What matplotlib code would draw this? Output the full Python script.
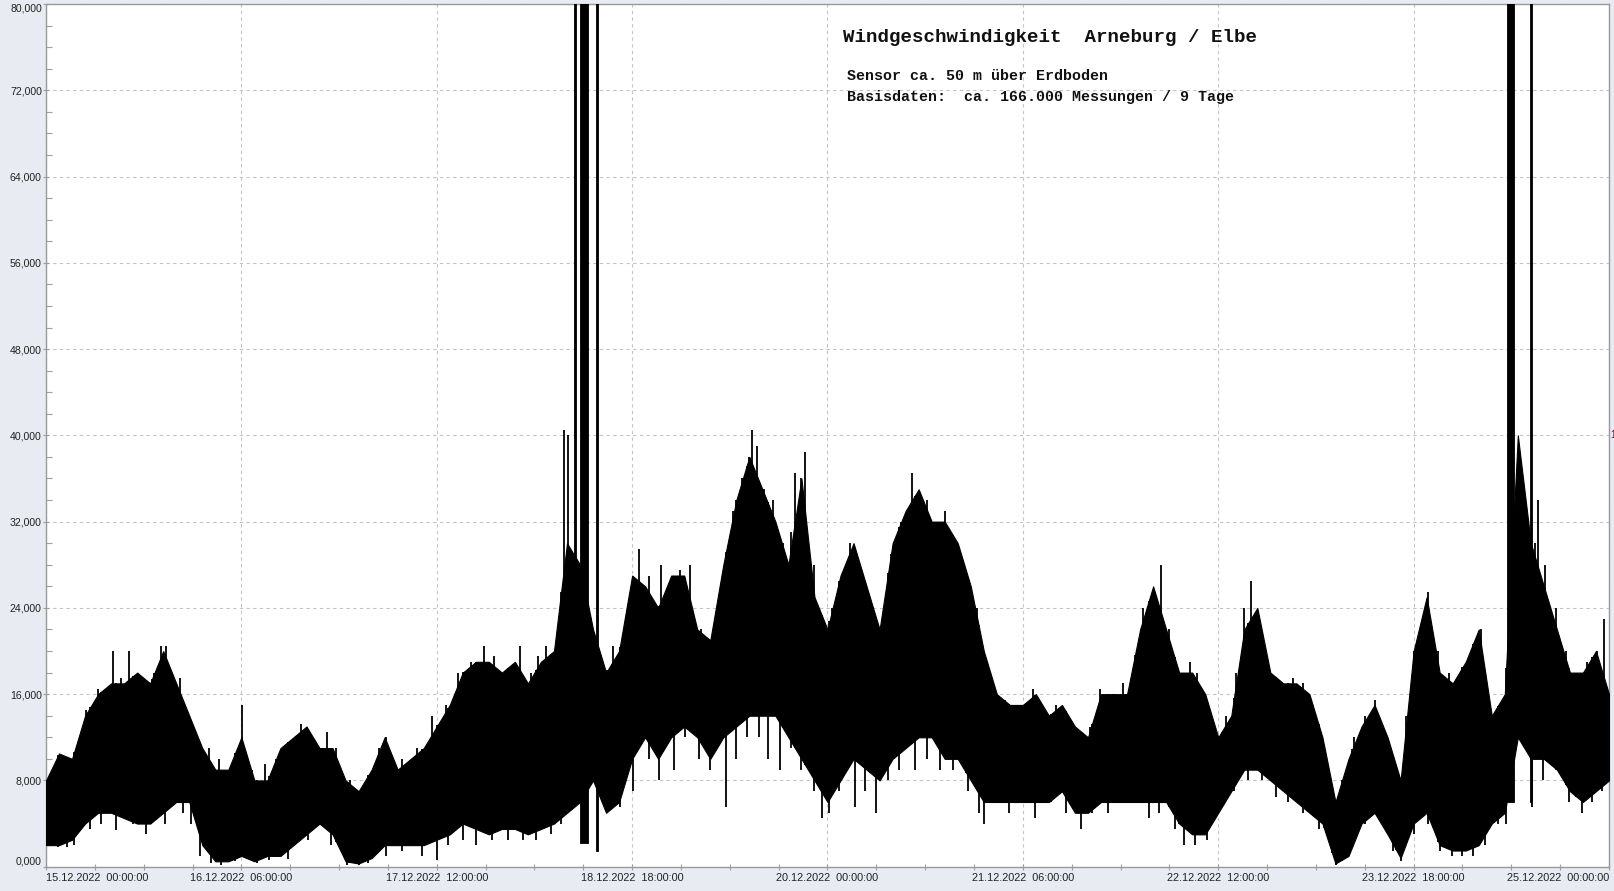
"""
Wind speed Arneburg / Elbe, 15.12.2022 - 25.12.2022.
Dense readings are drawn as a band (upper / lower envelope read off the
original chart), single high / low readings as spikes and the
out-of-range spikes.
"""

import numpy as np
import matplotlib
matplotlib.use("Agg")
import matplotlib.pyplot as plt
from matplotlib.ticker import MultipleLocator

# --- data (hours since 15.12.2022 00:00, values in thousands) ------------
hours = list(range(0, 241, 2))
upper_k = [8, 10.5, 10, 14, 16, 17, 17, 18, 17, 20, 17, 14,
           11, 9, 9, 12, 8, 8, 11, 12, 13, 11, 11, 8,
           7, 9, 12, 9, 10, 11, 13, 15, 18, 19, 19, 18,
           19, 17, 19, 20, 30, 28, 22, 18, 20, 27, 26, 24,
           27, 27, 22, 21, 28, 34, 38, 35, 32, 28, 36, 25,
           22, 27, 30, 26, 22, 30, 33, 35, 32, 32, 30, 26,
           20, 16, 15, 15, 16, 14, 15, 13, 12, 16, 16, 16,
           22, 26, 22, 18, 18, 16, 12, 14, 22, 24, 18, 17,
           17, 16, 12, 6, 10, 13, 15, 12, 8, 20, 25, 18,
           17, 19, 22, 14, 16, 40, 30, 26, 22, 18, 18, 20, 16]
lower_k = [2, 2, 2.5, 4, 5, 5, 4.5, 4, 4, 5, 6, 6,
           2, 0.5, 0.5, 1, 0.5, 1, 1, 2, 3, 4, 3, 0.5,
           0.3, 0.8, 2, 2, 2, 2, 2.5, 3, 4, 3.5, 3, 3.5,
           3.5, 3, 3.5, 4, 5, 6, 8, 5, 6, 10, 12, 10,
           12, 13, 12, 10, 12, 13, 14, 14, 14, 12, 10, 8,
           6, 8, 10, 9, 8, 10, 11, 12, 12, 10, 10, 8,
           6, 6, 6, 6, 6, 6, 7, 5, 5, 6, 6, 6,
           6, 6, 6, 4, 3, 3, 5, 7, 9, 9, 8, 7,
           6, 5, 4, 0.3, 1, 4, 5, 3, 0.8, 4, 5, 2,
           1.5, 1.5, 2, 4, 5, 12, 10, 10, 9, 7, 6, 7, 8]

# single high readings
high_hours = [6.2, 8.0, 10.3, 11.5, 12.7, 14.0, 15.0, 16.6, 17.7, 18.5, 19.5,
              20.6, 21.7, 25.0, 26.6, 30.1, 31.6, 33.7, 35.3, 37.2, 39.2, 40.8,
              43.2, 44.6, 46.7, 48.7, 51.1, 52.2, 54.6, 57.0, 59.3, 61.4, 63.3,
              65.3, 67.2, 68.8, 70.4, 72.8, 74.4, 75.5, 76.7, 78.3, 79.6, 80.1,
              87.0, 89.4, 91.0, 92.6, 94.5, 95.7, 97.3, 98.9, 100.5, 102.0,
              103.6, 105.5, 106.8, 107.9, 108.4, 109.2, 110.3, 111.6, 113.1,
              114.4, 115.0, 116.6, 117.9, 120.7, 122.3, 123.4, 125.0, 126.6,
              128.2, 129.7, 131.3, 132.9, 134.2, 135.3, 136.9, 138.1, 139.7,
              141.3, 142.9, 144.5, 145.6, 147.2, 148.7, 150.3, 151.6, 153.5,
              155.1, 156.6, 158.7, 160.3, 161.9, 163.8, 165.3, 166.9, 168.5,
              170.1, 171.2, 172.5, 174.0, 175.6, 176.7, 178.0, 179.6, 181.2,
              182.8, 184.0, 185.1, 186.2, 187.8, 189.9, 191.5, 193.0, 194.6,
              196.2, 197.5, 199.4, 200.9, 202.5, 204.1, 205.7, 207.3, 208.9,
              210.0, 211.4, 212.2, 213.8, 215.4, 217.0, 218.5, 219.6, 220.3,
              221.5, 223.1, 224.7, 228.6, 229.1, 230.2, 231.8, 233.4, 235.0,
              236.6, 238.2, 239.2]
high_k = [14.5, 16.5, 20, 17.5, 20, 17, 15, 18, 20.5, 20.5, 17.8,
          17.5, 14, 11, 10, 15, 9, 9.5, 10, 11, 13.2, 12,
          12.5, 11, 8, 7.5, 11, 12, 10, 11, 14, 15, 18,
          19, 20.5, 19.5, 18, 20.5, 18, 19.5, 20.5, 20, 40.5, 40,
          20.5, 24, 29.5, 27, 28, 26, 27.5, 28, 22, 20,
          26, 33, 36, 38, 40.5, 39, 35, 34, 30,
          31, 36.5, 38.5, 28, 24, 27, 30, 27, 24,
          20, 29, 32, 36.5, 33, 34, 30, 33, 30,
          26, 24, 17, 14, 15.5, 14, 15, 16.5, 13.5,
          15, 14, 12, 13, 16.5, 16, 17, 18, 24,
          24, 28, 22, 18, 19, 18, 16, 11, 14,
          18, 24, 26.5, 23, 18, 16, 17.5, 17, 15,
          10, 6, 8, 12, 14, 15.5, 12, 9, 14,
          20, 22, 25.5, 20, 18, 17, 19, 21, 22,
          15, 12, 43, 30, 34, 28, 24, 20, 18,
          19, 20, 23]

# single low readings
low_hours = [1.9, 3.3, 4.3, 6.8, 8.4, 10.8, 13.4, 15.3, 16.3, 18.2, 21.0,
             22.3, 23.7, 25.3, 26.9, 29.0, 32.4, 34.3, 37.2, 40.3, 43.8,
             46.2, 48.0, 49.5, 52.2, 54.6, 57.8, 60.1, 61.7, 64.1, 66.1,
             68.5, 70.9, 73.3, 75.2, 77.5, 79.1, 86.2, 88.1, 90.2, 92.6,
             94.1, 96.5, 98.1, 100.2, 102.0, 104.4, 106.0, 107.6, 109.5,
             110.8, 112.7, 114.4, 116.0, 117.9, 119.1, 120.3, 121.8, 124.2,
             125.8, 127.4, 129.3, 131.0, 133.4, 135.3, 137.2, 139.2, 141.6,
             143.2, 144.0, 145.6, 147.9, 149.8, 151.9, 154.3, 156.6, 159.0,
             160.6, 163.0, 165.3, 167.2, 169.3, 170.9, 173.3, 174.8, 176.4,
             178.3, 180.5, 182.4, 184.6, 186.7, 188.8, 190.7, 193.0, 195.4,
             198.1, 199.0, 200.6, 202.5, 204.8, 206.8, 208.0, 210.0, 212.2,
             214.1, 215.9, 217.5, 219.1, 221.0, 222.9, 224.2, 228.2, 229.9,
             231.8, 233.8, 235.8, 237.4, 239.0]
low_k = [1.8, 1.8, 2, 3.5, 4, 3.4, 4, 3, 4.5, 4, 5,
         4, 1, 0.3, 0.2, 0.5, 0.3, 0.6, 0.7, 2.5, 2,
         0.2, 0.2, 0.3, 1, 1.5, 1, 0.6, 2, 2.5, 2,
         2.5, 2.5, 2.5, 2.5, 3, 4, 6, 5.5, 7, 10,
         8, 9, 12, 10, 9, 5.5, 10, 12, 12,
         10, 9, 11, 9, 7, 4.5, 5, 7, 5.5,
         7, 5, 8, 9, 9, 10, 9, 9, 7,
         5, 4, 6, 5, 6, 4.5, 6, 5, 3.5,
         5, 5, 6, 6, 4.5, 5, 3.5, 2, 2,
         2.5, 5.5, 7, 8, 8, 6.5, 6, 5, 3.5,
         0.2, 0.5, 2, 4, 5, 1.5, 0.5, 3, 4,
         1.5, 1, 1, 1, 2, 4, 4, 5.5, 8,
         9, 6, 5, 6, 7]

# readings far above the axis range (sensor faults)
spike_start = [81.0, 82.05, 84.45, 224.3, 227.9]
spike_end = [81.35, 83.3, 84.7, 225.4, 228.15]
spike_low_k = [8, 2.2, 1.5, 6, 6]

x_labels = ["15.12.2022  00:00:00", "16.12.2022  06:00:00",
            "17.12.2022  12:00:00", "18.12.2022  18:00:00",
            "20.12.2022  00:00:00", "21.12.2022  06:00:00",
            "22.12.2022  12:00:00", "23.12.2022  18:00:00",
            "25.12.2022  00:00:00"]
y_labels = ["0,000", "8,000", "16,000", "24,000", "32,000", "40,000",
            "48,000", "56,000", "64,000", "72,000", "80,000"]

BG = "#e8ebf2"


def main():
    W, H = 1615, 891
    fig = plt.figure(figsize=(W / 100, H / 100), dpi=100, facecolor=BG)
    ax = fig.add_axes([46 / W, 1 - 866.7 / H, (1609 - 46) / W, (866.7 - 4) / H])
    ax.set_facecolor("white")

    up = np.array(upper_k) * 1000
    lo = np.array(lower_k) * 1000
    ax.fill_between(hours, lo, up, color="black", lw=0.8, zorder=3)

    # single readings: spikes through the band
    hh = np.array(high_hours)
    ax.vlines(hh, np.interp(hh, hours, lo), np.array(high_k) * 1000,
              color="black", lw=1.3, zorder=3)
    lh = np.array(low_hours)
    ax.vlines(lh, np.array(low_k) * 1000, np.interp(lh, hours, up),
              color="black", lw=1.3, zorder=3)

    for s, e, low in zip(spike_start, spike_end, spike_low_k):
        ax.fill_between([s, e], low * 1000, 200000, color="black", lw=0.6, zorder=3)

    # --- axes --------------------------------------------------------------
    ax.set_xlim(0, 240)
    ax.set_ylim(0, 80000)
    ax.set_xticks(range(0, 241, 30))
    ax.set_xticklabels(x_labels, fontsize=7.8, family="Liberation Sans", color="#222222")
    ax.xaxis.set_minor_locator(MultipleLocator(7.5))
    ax.set_yticks(range(0, 80001, 8000))
    ax.set_yticklabels(y_labels, fontsize=7.6, family="Liberation Sans", color="#222222")
    ax.yaxis.set_minor_locator(MultipleLocator(2000))

    ax.tick_params(axis="x", which="both", direction="inout", length=5,
                   width=0.8, color="#a0a0a0", pad=2)
    ax.tick_params(axis="y", which="major", direction="inout", length=4,
                   width=0.8, color="#a0a0a0", pad=1)
    ax.tick_params(axis="y", which="minor", direction="in", length=4,
                   width=0.8, color="#a0a0a0")

    xt = ax.get_xticklabels()
    xt[0].set_ha("left")
    xt[-1].set_ha("right")
    yt = ax.get_yticklabels()
    yt[0].set_va("bottom")
    yt[-1].set_va("top")

    ax.grid(True, which="major", color="#c4c4c4", linestyle=(0, (3, 3)), lw=0.8)
    ax.set_axisbelow(True)
    for sp in ax.spines.values():
        sp.set_color("#9a9a9a")
        sp.set_linewidth(1)

    ax.text(1.001, 0.5, "1", transform=ax.transAxes, color="#5a1040",
            fontsize=7, va="center", ha="left", family="Liberation Sans")

    # --- title block -------------------------------------------------------
    fig.text(843 / W, 1 - 38 / H, "Windgeschwindigkeit  Arneburg / Elbe",
             family="Liberation Mono", weight="bold", fontsize=13.8,
             va="center", ha="left", color="#111111")
    fig.text(847 / W, 1 - 76 / H, "Sensor ca. 50 m über Erdboden",
             family="Liberation Mono", weight="bold", fontsize=10.8,
             va="center", ha="left", color="#111111")
    fig.text(847 / W, 1 - 97 / H, "Basisdaten:  ca. 166.000 Messungen / 9 Tage",
             family="Liberation Mono", weight="bold", fontsize=10.8,
             va="center", ha="left", color="#111111")

    fig.savefig("out.png", dpi=100, facecolor=BG)
    plt.close(fig)


if __name__ == "__main__":
    main()
